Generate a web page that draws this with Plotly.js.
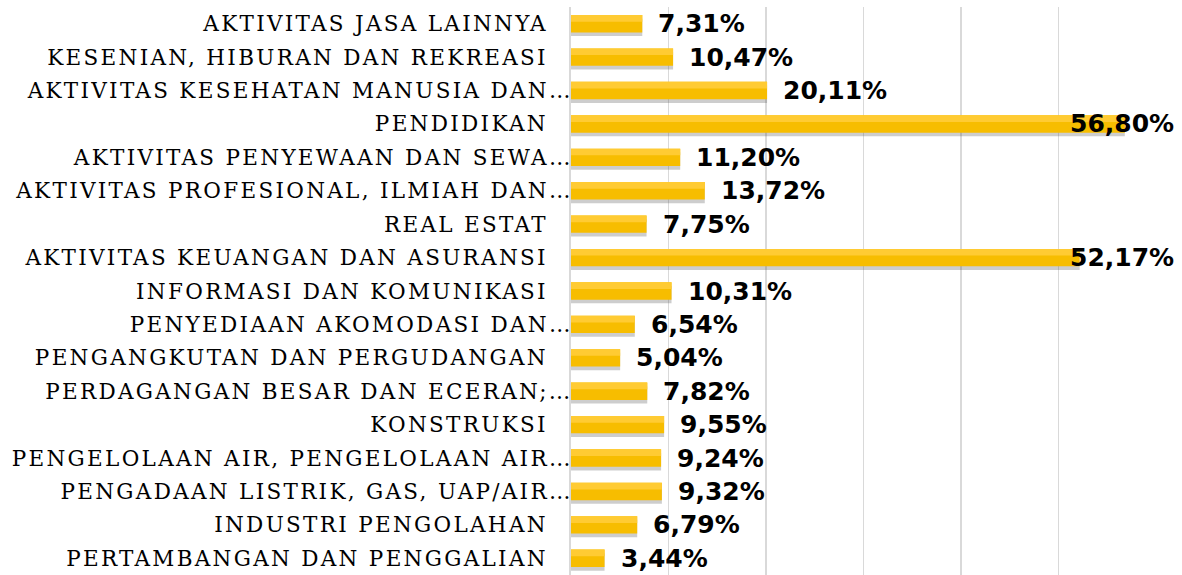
<!DOCTYPE html>
<html>
<head>
<meta charset="utf-8">
<script src="https://cdn.plot.ly/plotly-3.0.1.min.js"></script>
<style>
html,body{margin:0;padding:0;background:#fff;}
#chart{width:1182px;height:575px;}
#chart .ytick text{letter-spacing:2.3px;}
</style>
</head>
<body>
<div id="chart"></div>
<script>
// Categories top to bottom as displayed
const categories = [
  "AKTIVITAS JASA LAINNYA",
  "KESENIAN, HIBURAN DAN REKREASI",
  "AKTIVITAS KESEHATAN MANUSIA DAN…",
  "PENDIDIKAN",
  "AKTIVITAS PENYEWAAN DAN SEWA…",
  "AKTIVITAS PROFESIONAL, ILMIAH DAN…",
  "REAL ESTAT",
  "AKTIVITAS KEUANGAN DAN ASURANSI",
  "INFORMASI DAN KOMUNIKASI",
  "PENYEDIAAN AKOMODASI DAN…",
  "PENGANGKUTAN DAN PERGUDANGAN",
  "PERDAGANGAN BESAR DAN ECERAN;…",
  "KONSTRUKSI",
  "PENGELOLAAN AIR, PENGELOLAAN AIR…",
  "PENGADAAN LISTRIK, GAS, UAP/AIR…",
  "INDUSTRI PENGOLAHAN",
  "PERTAMBANGAN DAN PENGGALIAN"
];
const values = [7.31, 10.47, 20.11, 56.80, 11.20, 13.72, 7.75, 52.17, 10.31, 6.54, 5.04, 7.82, 9.55, 9.24, 9.32, 6.79, 3.44];
const valueLabels = ["7,31%", "10,47%", "20,11%", "56,80%", "11,20%", "13,72%", "7,75%", "52,17%", "10,31%", "6,54%", "5,04%", "7,82%", "9,55%", "9,24%", "9,32%", "6,79%", "3,44%"];
const xMax = 60;

// truncated labels let their ellipsis hang past the label column, as in the source:
// full labels get trailing blank space of about one ellipsis width
const tickText = categories.map(c => c.endsWith('…') ? c : c + '\u00a0\u00a0\u2009');

const barW = 0.52;
const shadow = {
  type: 'bar', orientation: 'h', x: values, y: categories,
  width: barW, offset: -barW/2 + 0.11,
  marker: {color: 'rgba(90,90,90,0.30)', line: {width: 0}},
  hoverinfo: 'skip', showlegend: false
};
const main = {
  type: 'bar', orientation: 'h', x: values, y: categories,
  width: barW, offset: -barW/2,
  marker: {color: '#F7BD00', line: {width: 0}},
  hoverinfo: 'skip', showlegend: false
};
const highlight = {
  type: 'bar', orientation: 'h', x: values, y: categories,
  width: 0.2, offset: -barW/2,
  marker: {color: '#FFCB33', line: {width: 0}},
  hoverinfo: 'skip', showlegend: false
};

const annotations = values.map((v, i) => {
  const big = v > 45;
  return {
    xref: big ? 'paper' : 'x', yref: 'y',
    x: big ? 1 : v, y: categories[i],
    xanchor: big ? 'right' : 'left', yanchor: 'middle',
    xshift: big ? 20 : 14, yshift: 0,
    text: '<b>' + valueLabels[i] + '</b>',
    showarrow: false,
    font: {family: 'DejaVu Sans', size: 25, color: '#000'}
  };
});

const layout = {
  width: 1182, height: 575,
  margin: {l: 571, r: 26, t: 7, b: 0, pad: 0},
  paper_bgcolor: '#fff', plot_bgcolor: '#fff',
  barmode: 'overlay',
  showlegend: false,
  xaxis: {
    range: [0, xMax], dtick: 10, tick0: 0,
    showgrid: true, gridcolor: '#D9D9D9', gridwidth: 1.5,
    showticklabels: false, zeroline: false, showline: false, fixedrange: true
  },
  yaxis: {
    type: 'category', autorange: 'reversed',
    categoryorder: 'array', categoryarray: categories,
    tickmode: 'array', tickvals: categories, ticktext: tickText,
    showgrid: false, zeroline: false,
    showline: true, linecolor: '#D9D9D9', linewidth: 2,
    ticks: '', ticklabelstandoff: -8,
    tickfont: {family: 'DejaVu Serif', size: 21.5, color: '#000'},
    fixedrange: true
  },
  annotations: annotations
};

Plotly.newPlot('chart', [shadow, main, highlight], layout, {displayModeBar: false, staticPlot: true});
</script>
</body>
</html>
